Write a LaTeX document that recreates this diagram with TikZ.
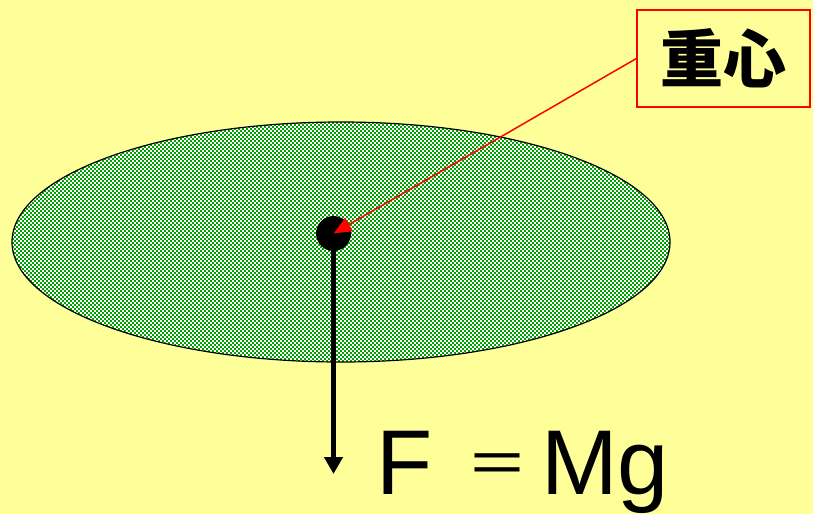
\documentclass[tikz,border=0pt]{standalone}
\usepackage{fontspec}
\setmainfont{Liberation Sans}
\newfontfamily\cjk{Noto Sans CJK JP}
\usetikzlibrary{arrows.meta}
\definecolor{bgyellow}{HTML}{FFFF99}
\definecolor{checkgreen}{HTML}{00A000}
\tikzset{
  redbox/.style={draw=red, line width=1.3pt, fill=bgyellow, minimum width=173pt, minimum height=97pt, inner sep=0pt},
  redarrow/.style={draw=red, line width=1.5pt, -{Triangle[length=18pt,width=15pt]}},
  forcearrow/.style={draw=black, line width=4.5pt, -{Triangle[length=17pt,width=18pt]}},
  checkrow/.style={draw=checkgreen, line width=2pt, dash pattern=on 2pt off 2pt},
}
\begin{document}
\begin{tikzpicture}[x=1pt,y=-1pt]
\useasboundingbox (0,0) rectangle (813,514);
\fill[bgyellow] (0,0) rectangle (813,514);
% ellipse body with checker fill
\fill[white] (341,242) ellipse [x radius=329, y radius=120];
\begin{scope}
  \clip (341,242) ellipse [x radius=329, y radius=120];
  \foreach \k in {0,...,121} {
    \pgfmathsetmacro{\yy}{121+2*\k}
    \pgfmathsetmacro{\ph}{mod(\k,2)*2}
    \draw[checkrow, dash phase=\ph pt] (10,\yy) -- (674,\yy);
  }
\end{scope}
\draw[black, line width=1.2pt] (341,242) ellipse [x radius=329, y radius=120];
% centre of mass
\node[circle, fill=black, minimum size=35pt, inner sep=0pt] (cg) at (333.5,233.5) {};
\coordinate (tip) at (333.5,474);
\draw[forcearrow] (cg.center) -- (tip);
% label box
\node[redbox] (lbl) at (723.5,58.5) {\cjk\bfseries\fontsize{63}{63}\selectfont 重心};
\draw[redarrow] (lbl.west) -- (cg.center);
% formula
\node[anchor=base west, inner sep=0pt, font=\fontsize{92}{92}\selectfont] (F) at (376,494) {F};
\node[inner sep=0pt, font=\cjk\fontsize{62}{62}\selectfont] (eq) at (497,470) {＝};
\node[anchor=base west, inner sep=0pt, font=\fontsize{92}{92}\selectfont] (Mg) at (541,494) {Mg};
\end{tikzpicture}
\end{document}
